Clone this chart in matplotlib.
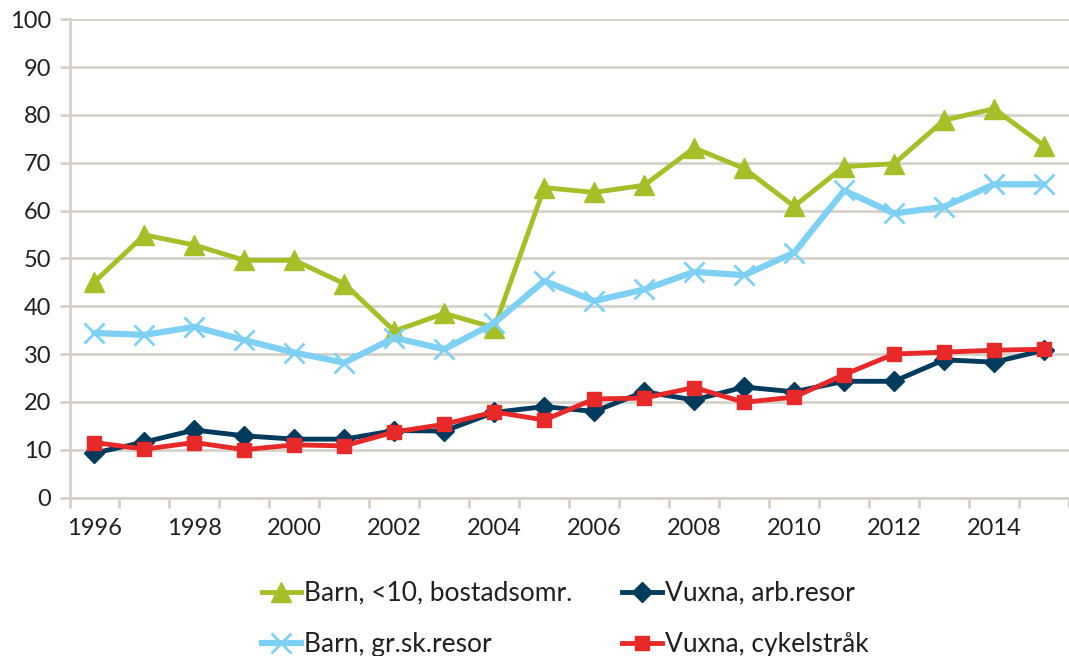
import matplotlib
matplotlib.use("Agg")
import matplotlib.pyplot as plt
import numpy as np

years = list(range(1996, 2016))
tick_years = [1996, 1998, 2000, 2002, 2004, 2006, 2008, 2010, 2012, 2014]

barn_bostad = [45.1, 54.9, 52.8, 49.6, 49.6, 44.7, 34.8, 38.5, 35.5, 64.8,
               63.8, 65.3, 73.1, 68.8, 60.9, 69.2, 69.8, 78.9, 81.3, 73.6]
barn_grsk = [34.4, 34.0, 35.7, 32.9, 30.3, 28.2, 33.4, 31.0, 36.5, 45.3,
             41.1, 43.5, 47.2, 46.5, 51.2, 64.2, 59.4, 60.8, 65.5, 65.5]
vuxna_arb = [9.3, 11.6, 14.1, 12.9, 12.2, 12.2, 14.0, 13.9, 17.8, 19.0,
             18.0, 22.1, 20.4, 23.1, 22.1, 24.3, 24.3, 28.8, 28.3, 30.8]
vuxna_cykel = [11.5, 10.1, 11.5, 10.0, 11.0, 10.8, 13.7, 15.3, 17.9, 16.2,
               20.6, 20.8, 23.0, 19.9, 21.0, 25.7, 30.0, 30.4, 30.8, 31.0]

labels = ["Barn, <10, bostadsomr.", "Barn, gr.sk.resor",
          "Vuxna, arb.resor", "Vuxna, cykelstråk"]

plt.rcParams['font.family'] = ['Lato', 'DejaVu Sans']
txt = '#231f20'
grid_c = '#d6d2ca'

fig = plt.figure(figsize=(10.69, 6.56), dpi=100)
W, H = 1069, 656
left, right, top, bottom = 69.5, 1069, 19.3, 497.5
ax = fig.add_axes([left / W, 1 - bottom / H, (right - left) / W, (bottom - top) / H])

x = np.arange(len(years))
ax.plot(x, barn_bostad, color='#a5bf28', lw=3.5, marker='^', ms=14, zorder=3, label=labels[0])
ax.plot(x, barn_grsk, color='#7ed0f4', lw=4.5, marker='x', ms=14, mew=2, zorder=3, label=labels[1])
ax.plot(x, vuxna_arb, color='#003a5c', lw=3.5, marker='D', ms=10, zorder=4, label=labels[2])
ax.plot(x, vuxna_cykel, color='#e8292a', lw=3.5, marker='s', ms=10, zorder=5, label=labels[3])

ax.set_ylim(0, 100)
ax.set_xlim(-0.5, (right - 94.5) / 50.4)
ax.set_yticks(range(0, 101, 10))
ax.yaxis.grid(True, color=grid_c, lw=2)
ax.set_axisbelow(True)

ax.set_xticks([years.index(y) for y in tick_years])
ax.set_xticklabels([str(y) for y in tick_years])
ax.set_xticks(np.arange(-0.5, len(years), 1.0), minor=True)
ax.tick_params(axis='x', which='major', length=0, pad=15, labelsize=17, labelcolor=txt)
ax.tick_params(axis='x', which='minor', length=7, width=2, color=grid_c)
ax.tick_params(axis='y', length=7, width=2, color=grid_c, pad=6, labelsize=17, labelcolor=txt)

for s in ['top', 'right']:
    ax.spines[s].set_visible(False)
ax.spines['left'].set_color(grid_c)
ax.spines['left'].set_linewidth(2)
ax.spines['bottom'].set_color(grid_c)
ax.spines['bottom'].set_linewidth(2)

handles, labs = ax.get_legend_handles_labels()
fig.legend(handles, labs, ncol=2, loc='center', bbox_to_anchor=(565 / W, 1 - 619 / H),
           frameon=False, prop={'family': ['Lato', 'DejaVu Sans'], 'size': 19},
           handlelength=1.5, handletextpad=0.1, borderpad=0.2,
           columnspacing=1.9, labelspacing=1.0, labelcolor=txt)

fig.savefig('out.png', dpi=100)
